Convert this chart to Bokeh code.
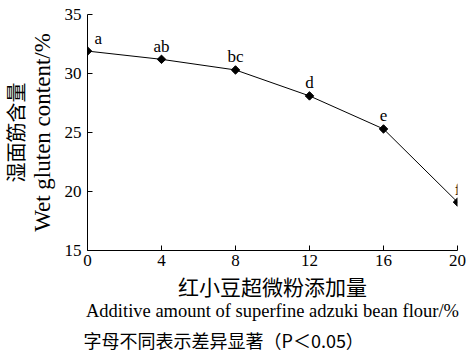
from bokeh.plotting import figure
from bokeh.models import Range1d, Title, FixedTicker, ColumnDataSource
from bokeh.core.properties import value
from bokeh.embed import file_html
from bokeh.resources import INLINE
import math

# ---- data ----
additions = [0, 4, 8, 12, 16, 20]
wet_gluten = [31.9, 31.2, 30.3, 28.1, 25.3, 19.1]
letters = ["a", "ab", "bc", "d", "e", "f"]
x_ticks = [0, 4, 8, 12, 16, 20]
y_ticks = [15, 20, 25, 30, 35]

y_label_cn = "湿面筋含量"
y_label_en = "Wet gluten content/%"
x_label_cn = "红小豆超微粉添加量"
x_label_en = "Additive amount of superfine adzuki bean flour/%"
note = "字母不同表示差异显著（P＜0.05）"

SERIF = "Liberation Serif"
CJK = "Noto Sans CJK SC"

W, H = 467, 358
FL, FR, FT, FB = 87, 457, 14, 252

p = figure(width=W, height=H, output_backend="svg", toolbar_location=None,
           x_range=Range1d(0, 20), y_range=Range1d(15, 35),
           min_border_left=FL, min_border_right=W - FR,
           min_border_top=FT, min_border_bottom=H - FB)
p.outline_line_color = None
p.xgrid.visible = False
p.ygrid.visible = False
p.background_fill_color = "white"
p.border_fill_color = "white"

for ax in (p.xaxis[0], p.yaxis[0]):
    ax.major_tick_in = 5
    ax.major_tick_out = 0
    ax.minor_tick_line_color = None
    ax.axis_line_color = "black"
    ax.major_tick_line_color = "black"
    ax.major_label_text_font = SERIF
    ax.major_label_text_font_size = "17px"
    ax.major_label_text_color = "black"
p.xaxis.ticker = FixedTicker(ticks=x_ticks)
p.yaxis.ticker = FixedTicker(ticks=y_ticks)
p.xaxis.major_label_standoff = 4
p.yaxis.major_label_standoff = 6

src = ColumnDataSource(dict(
    x=additions, y=wet_gluten, t=letters,
    xo=[7 if v == min(additions) else 0 for v in additions],
    al=["left" if v == min(additions) else "center" for v in additions],
))
p.line("x", "y", source=src, line_color="black", line_width=1)
p.scatter("x", "y", source=src, marker="square", size=6, angle=math.pi / 4,
          fill_color="black", line_color="black")
p.text("x", "y", text="t", source=src, text_font=value(SERIF),
       text_font_size="17px", text_align="al", text_baseline="alphabetic",
       x_offset="xo", y_offset=-13, text_color="black")


def side_title(text, place, font, size, align="center", standoff=0, offset=0):
    t = Title(text=text, text_font=font, text_font_size=size, align=align,
              text_font_style="normal", text_color="black",
              standoff=standoff, offset=offset)
    p.add_layout(t, place)


# left side: closest to the axis first
side_title(y_label_en, "left", SERIF, "23px", standoff=14, offset=-7)
side_title(y_label_cn, "left", CJK, "20px", standoff=-18, offset=-10)
# below: closest to the axis first
side_title(x_label_cn, "below", CJK, "21px", standoff=1)
side_title(x_label_en, "below", SERIF, "18.5px", standoff=-5)
side_title(note, "below", CJK, "18px", align="left", standoff=12, offset=-4)

open("out.html", "w").write(file_html(p, INLINE))
